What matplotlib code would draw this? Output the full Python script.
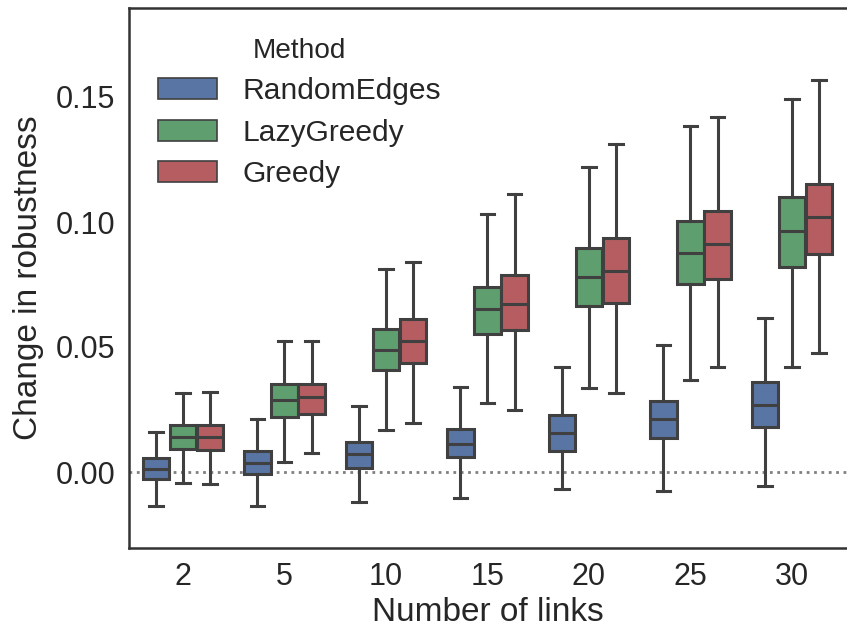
import matplotlib
matplotlib.use("Agg")
import matplotlib.pyplot as plt
import matplotlib.patches as mpatches

plt.rcParams['font.family'] = ['Liberation Sans', 'DejaVu Sans']

links = ["2", "5", "10", "15", "20", "25", "30"]
methods = ["RandomEdges", "LazyGreedy", "Greedy"]
colors = ["#5975A4", "#5F9E6E", "#B55D60"]

# whisker low, q1, median, q3, whisker high for each number of links
random_lo = [-0.0136, -0.0135, -0.0119, -0.0105, -0.0069, -0.0076, -0.0055]
random_q1 = [-0.0028, -0.0008, 0.0015, 0.0059, 0.0085, 0.0137, 0.0179]
random_med = [0.0012, 0.0035, 0.0072, 0.0112, 0.0157, 0.0211, 0.0268]
random_q3 = [0.0056, 0.0084, 0.0121, 0.0171, 0.0228, 0.0284, 0.0361]
random_hi = [0.0160, 0.0211, 0.0264, 0.0341, 0.0419, 0.0508, 0.0617]

lazy_lo = [-0.0044, 0.0039, 0.0168, 0.0275, 0.0335, 0.0368, 0.0421]
lazy_q1 = [0.0092, 0.0221, 0.0408, 0.0551, 0.0664, 0.0752, 0.0821]
lazy_med = [0.0140, 0.0288, 0.0488, 0.0651, 0.0779, 0.0875, 0.0964]
lazy_q3 = [0.0188, 0.0352, 0.0572, 0.0741, 0.0895, 0.1004, 0.1099]
lazy_hi = [0.0316, 0.0525, 0.0812, 0.1031, 0.1221, 0.1385, 0.1491]

greedy_lo = [-0.0048, 0.0075, 0.0197, 0.0248, 0.0315, 0.0421, 0.0477]
greedy_q1 = [0.0090, 0.0232, 0.0437, 0.0568, 0.0675, 0.0772, 0.0871]
greedy_med = [0.0140, 0.0299, 0.0525, 0.0672, 0.0805, 0.0912, 0.1021]
greedy_q3 = [0.0188, 0.0352, 0.0612, 0.0788, 0.0935, 0.1044, 0.1151]
greedy_hi = [0.0320, 0.0525, 0.0841, 0.1111, 0.1311, 0.1421, 0.1568]

series = [
    (random_lo, random_q1, random_med, random_q3, random_hi),
    (lazy_lo, lazy_q1, lazy_med, lazy_q3, lazy_hi),
    (greedy_lo, greedy_q1, greedy_med, greedy_q3, greedy_hi),
]

line_col = "#404040"
text_col = "#262626"

fig = plt.figure(figsize=(8.47, 6.27), dpi=100)
ax = fig.add_axes([129 / 847, 79 / 627, 718 / 847, 540 / 627])

w = 0.8 / 3
for j, (lo, q1, med, q3, hi) in enumerate(series):
    stats = []
    for i in range(len(links)):
        stats.append(dict(whislo=lo[i], q1=q1[i], med=med[i], q3=q3[i],
                          whishi=hi[i], fliers=[]))
    pos = [i + (j - 1) * w for i in range(len(links))]
    ax.bxp(stats, positions=pos, widths=w * 0.98, capwidths=w / 2,
           patch_artist=True, showfliers=False, manage_ticks=False,
           boxprops=dict(facecolor=colors[j], edgecolor=line_col, linewidth=2.2),
           medianprops=dict(color=line_col, linewidth=2.2),
           whiskerprops=dict(color=line_col, linewidth=2.2),
           capprops=dict(color=line_col, linewidth=2.2))

ax.axhline(0, color="#808080", linestyle=":", linewidth=2, zorder=0)

ax.set_xlim(-0.532, 6.542)
ax.set_ylim(-0.0304, 0.1856)
ax.set_xticks(range(len(links)))
ax.set_xticklabels(links)
ax.set_yticks([0.0, 0.05, 0.10, 0.15])
ax.set_yticklabels(["0.00", "0.05", "0.10", "0.15"])
ax.tick_params(length=0, labelsize=22, colors=text_col, pad=10)
ax.set_xlabel("Number of links", fontsize=24, color=text_col, labelpad=4)
ax.set_ylabel("Change in robustness", fontsize=24, color=text_col, labelpad=8)

for s in ["left", "bottom", "top"]:
    ax.spines[s].set_color("#333333")
    ax.spines[s].set_linewidth(1.8)
ax.spines["right"].set_visible(False)

handles = [mpatches.Patch(facecolor=c, edgecolor=line_col, linewidth=1.2, label=m)
           for c, m in zip(colors, methods)]
leg = ax.legend(handles=handles, title="Method", loc="upper left", frameon=False,
                fontsize=21.6, title_fontsize=20.2, handlelength=1.95,
                handletextpad=0.85, labelspacing=0.45,
                bbox_to_anchor=(0.003, 0.995))
for t in leg.get_texts():
    t.set_color(text_col)
leg.get_title().set_color(text_col)

fig.savefig("out.png", dpi=100)
